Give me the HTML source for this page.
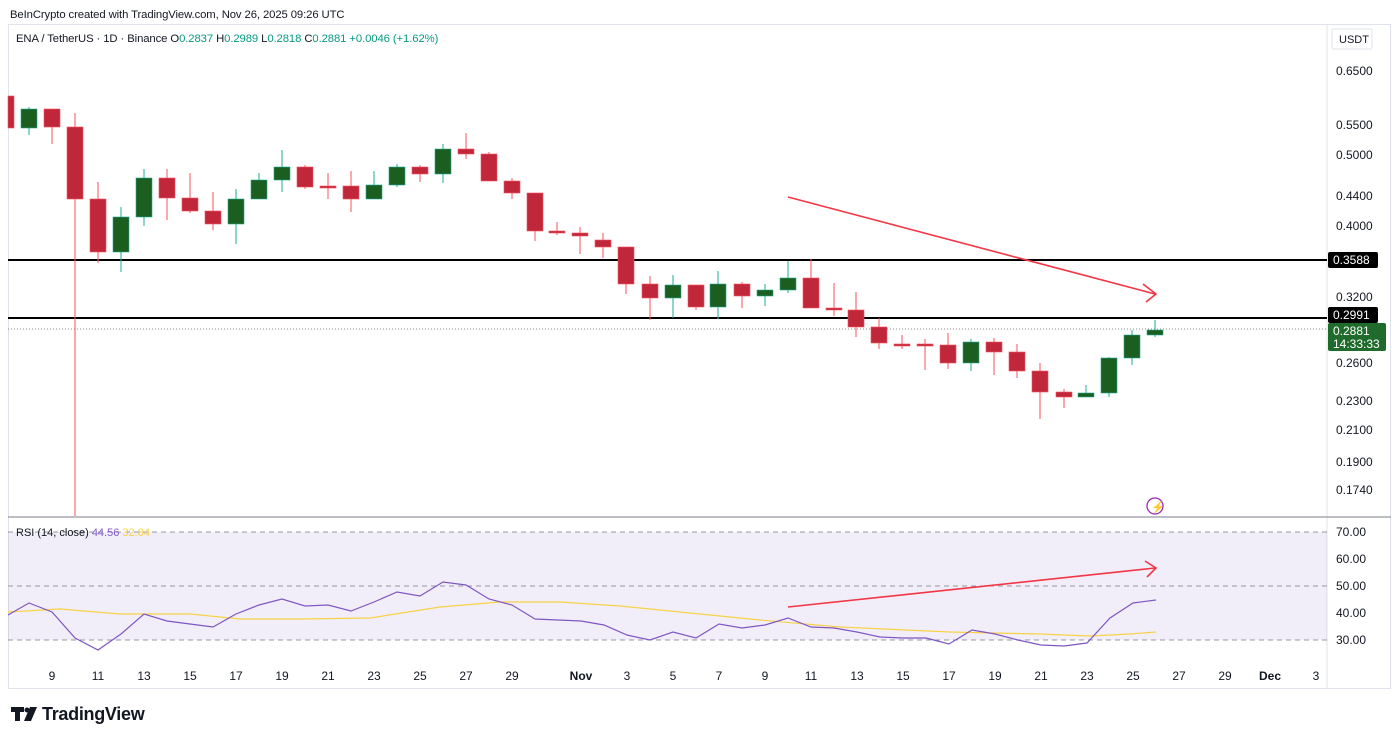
<!DOCTYPE html>
<html><head><meta charset="utf-8"><style>
body{margin:0;background:#fff;width:1400px;height:741px;overflow:hidden;font-family:"Liberation Sans",sans-serif}
svg text{font-family:"Liberation Sans",sans-serif}
</style></head><body>
<svg id="s" width="1400" height="741" xmlns="http://www.w3.org/2000/svg">
<rect x="8.5" y="24.5" width="1382" height="664" fill="none" stroke="#e0e3eb"/>
<line x1="1327" y1="24" x2="1327" y2="689" stroke="#e0e3eb"/>
<text x="10" y="18" font-size="11.3" fill="#131722" letter-spacing="-0.1">BeInCrypto created with TradingView.com, Nov 26, 2025 09:26 UTC</text>
<text x="16" y="42" font-size="11.3" fill="#131722" letter-spacing="-0.1">ENA / TetherUS · 1D · Binance <tspan>O</tspan><tspan fill="#089981">0.2837</tspan> H<tspan fill="#089981">0.2989</tspan> L<tspan fill="#089981">0.2818</tspan> C<tspan fill="#089981">0.2881</tspan> <tspan fill="#089981">+0.0046 (+1.62%)</tspan></text>
<rect x="1332" y="29" width="40" height="20" fill="#fff" stroke="#e0e3eb" rx="2"/>
<text x="1339" y="43" font-size="11" fill="#131722">USDT</text>
<g font-size="12" fill="#131722">
<text x="1336" y="75">0.6500</text><text x="1336" y="129">0.5500</text><text x="1336" y="159">0.5000</text>
<text x="1336" y="200">0.4400</text><text x="1336" y="230">0.4000</text><text x="1336" y="301">0.3200</text>
<text x="1336" y="367">0.2600</text><text x="1336" y="405">0.2300</text><text x="1336" y="434">0.2100</text>
<text x="1336" y="466">0.1900</text><text x="1336" y="494">0.1740</text>
</g>
<line x1="8" y1="260" x2="1327" y2="260" stroke="#000" stroke-width="2"/>
<line x1="8" y1="318" x2="1327" y2="318" stroke="#000" stroke-width="2"/>
<line x1="8" y1="329" x2="1327" y2="329" stroke="#888" stroke-dasharray="1,2"/>
<rect x="1328" y="252" width="50" height="16" fill="#000" rx="2"/><text x="1333" y="264" font-size="12" fill="#fff">0.3588</text>
<rect x="1328" y="307" width="50" height="16" fill="#000" rx="2"/><text x="1333" y="319" font-size="12" fill="#fff">0.2991</text>
<rect x="1328" y="323" width="58" height="28" fill="#1e6b2c" rx="2"/><text x="1333" y="335" font-size="12" fill="#fff">0.2881</text><text x="1333" y="348" font-size="12" fill="#fff">14:33:33</text>
<g id="c"></g>
<line x1="788" y1="197" x2="1155" y2="294" stroke="#f23645" stroke-width="1.6"/>
<polyline points="1143,284 1156,294 1146,302" fill="none" stroke="#f23645" stroke-width="1.6"/>
<circle cx="1155" cy="506" r="8" fill="none" stroke="#9c27b0" stroke-width="1.3"/>
<text x="1151" y="511" font-size="11" fill="#9c27b0">⚡</text>
<line x1="8" y1="517" x2="1391" y2="517" stroke="#9598a1" stroke-width="1.2"/>
<rect x="8" y="532" width="1319" height="108" fill="#7e57c2" fill-opacity="0.1"/>
<g stroke="#9598a1" stroke-dasharray="5,4"><line x1="8" y1="532" x2="1327" y2="532"/><line x1="8" y1="586" x2="1327" y2="586"/><line x1="8" y1="640" x2="1327" y2="640"/></g>
<g font-size="12" fill="#131722"><text x="1336" y="536">70.00</text><text x="1336" y="563">60.00</text><text x="1336" y="590">50.00</text><text x="1336" y="617">40.00</text><text x="1336" y="644">30.00</text></g>
<text x="16" y="536" font-size="11" fill="#131722">RSI (14, close) <tspan fill="#7e57c2">44.56</tspan> <tspan fill="#f7d247">32.84</tspan></text>
<polyline fill="none" stroke="#f7d247" stroke-width="1.2" points="8,612 60,609 120,614 190,614 240,619 300,619 370,618 440,607 500,602 560,602 620,606 680,612 760,620 840,627 950,632 1040,634 1090,636 1130,634 1156,632"/>
<polyline fill="none" stroke="#7e57c2" stroke-width="1.2" points="8,615 29,603 52,612 75,638 98,650 121,634 144,614 167,621 190,624 213,627 236,614 259,605 282,599 305,606 328,605 351,611 374,602 397,592 420,596 443,582 466,585 489,599 512,605 535,619 558,620 581,621 604,625 627,635 650,640 673,632 696,638 719,624 742,628 765,625 788,618 811,627 834,628 857,632 880,637 903,638 926,638 949,644 972,630 995,634 1018,640 1041,645 1064,646 1087,643 1110,618 1133,603 1156,600"/>
<line x1="788" y1="607" x2="1155" y2="568" stroke="#f23645" stroke-width="1.6"/>
<polyline points="1145,561 1156,568 1147,577" fill="none" stroke="#f23645" stroke-width="1.6"/>
<g font-size="12" fill="#131722" text-anchor="middle">
<text x="52" y="680">9</text><text x="98" y="680">11</text><text x="144" y="680">13</text><text x="190" y="680">15</text><text x="236" y="680">17</text><text x="282" y="680">19</text><text x="328" y="680">21</text><text x="374" y="680">23</text><text x="420" y="680">25</text><text x="466" y="680">27</text><text x="512" y="680">29</text><text x="581" y="680" font-weight="bold">Nov</text><text x="627" y="680">3</text><text x="673" y="680">5</text><text x="719" y="680">7</text><text x="765" y="680">9</text><text x="811" y="680">11</text><text x="857" y="680">13</text><text x="903" y="680">15</text><text x="949" y="680">17</text><text x="995" y="680">19</text><text x="1041" y="680">21</text><text x="1087" y="680">23</text><text x="1133" y="680">25</text><text x="1179" y="680">27</text><text x="1225" y="680">29</text><text x="1270" y="680" font-weight="bold">Dec</text><text x="1316" y="680">3</text>
</g>
<g fill="#131722"><rect x="11" y="707" width="13" height="5"/><rect x="15" y="707" width="5" height="14"/><circle cx="27" cy="710" r="2.5"/><polygon points="30,707 37,707 31,721 24,721"/></g>
<text x="42" y="720" font-size="18" font-weight="bold" fill="#131722" letter-spacing="-0.3">TradingView</text>
</svg>
<script>
var d=[[11,96,128,96,128],[29,128,109,107,135],[52,109,127,109,144],[75,127,199,113,516],[98,199,252,182,263],[121,252,217,207,272],[144,217,178,169,226],[167,178,198,169,220],[190,198,211,173,213],[213,211,224,192,230],[236,224,199,189,244],[259,199,180,173,199],[282,180,167,150,192],[305,167,187,165,189],[328,186,186,173,199],[351,186,199,171,212],[374,199,185,171,199],[397,185,167,164,187],[420,167,174,165,182],[443,174,149,144,183],[466,149,154,133,159],[489,154,181,152,181],[512,181,193,178,199],[535,193,231,193,241],[557,231,233,222,235],[580,233,236,227,254],[603,240,247,233,258],[626,247,284,247,294],[650,284,298,276,320],[673,298,285,275,318],[696,285,307,285,310],[718,307,284,271,319],[742,284,296,282,308],[765,296,290,284,306],[788,290,278,261,293],[811,278,308,259,308],[834,308,310,283,316],[856,310,327,292,337],[879,327,343,318,349],[902,344,346,335,349],[925,344,346,339,370],[948,345,363,333,369],[971,363,342,339,371],[994,342,352,338,375],[1017,352,371,344,378],[1040,371,392,363,419],[1064,392,397,389,408],[1086,397,393,385,397],[1109,393,358,357,397],[1132,358,335,330,365],[1155,335,330,320,337]];
var g=document.getElementById('c'),h='';
d.forEach(function(c){var up=c[2]<c[1];var col=up?'#1b5e20':'#c0273a';var wc=up?'#22ab94':'#f7525f';var t=Math.min(c[1],c[2]),b=Math.max(c[1],c[2]);if(b-t<2){b=t+2}
h+='<line x1="'+c[0]+'" y1="'+c[3]+'" x2="'+c[0]+'" y2="'+c[4]+'" stroke="'+wc+'" stroke-width="1"/>';
var w=c[0]==11?6:16;var x=c[0]==11?8:c[0]-8;
h+='<rect x="'+x+'" y="'+t+'" width="'+w+'" height="'+(b-t)+'" fill="'+col+'" stroke="'+wc+'" stroke-width="0.6"/>';});
g.innerHTML=h;
</script>
</body></html>
